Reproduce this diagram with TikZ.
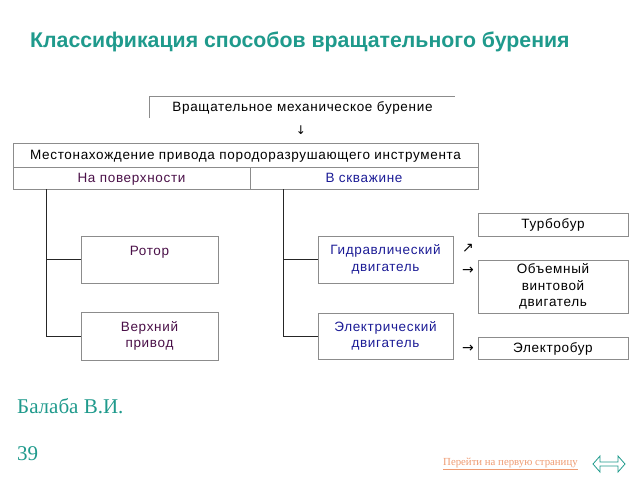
\documentclass[tikz,border=0pt]{standalone}
\usepackage{fontspec}
\setmainfont{Liberation Sans}
\newfontfamily\boxfont[LetterSpace=5]{Liberation Sans}
\newfontfamily\seriffont{Liberation Serif}
\newfontfamily\arrowfont{DejaVu Sans}
\usetikzlibrary{positioning}

\definecolor{titleteal}{HTML}{1F9A8C}
\definecolor{darkpurple}{HTML}{4A1048}
\definecolor{navy}{HTML}{1C1C96}
\definecolor{linkorange}{HTML}{EE9B72}
\definecolor{boxgray}{HTML}{8C8C8C}

\begin{document}
\begin{tikzpicture}[
    x=1pt, y=-1pt,
    box/.style={rectangle, draw=boxgray, line width=0.9pt, inner sep=0pt, align=center, font=\boxfont\fontsize{13.5}{16.5}\selectfont},
    plain/.style={rectangle, inner sep=0pt, align=center, font=\boxfont\fontsize{13.5}{16.5}\selectfont},
    oneline/.style={text height=9.7pt, text depth=1.5pt},
    arrowsign/.style={inner sep=0pt, font=\arrowfont\fontsize{14}{14}\selectfont},
    link/.style={draw=black!85, line width=1pt}
]
\useasboundingbox (0,0) rectangle (640,480);

% Title
\node[anchor=base west, inner sep=0pt, text=titleteal, font=\bfseries\fontsize{21.3}{24}\selectfont] (title) at (30,47) {Классификация способов вращательного бурения};

% Top box (open)
\node[plain, oneline, minimum width=305pt, minimum height=21pt] (top) at (302.5,107.5) {Вращательное механическое бурение};
\draw[boxgray, line width=0.9pt] (top.south west) |- (top.north east);
\node[arrowsign, font=\arrowfont\fontsize{12}{12}\selectfont] (down) at (301,130) {↓};

% Location table
\node[box, oneline, minimum width=465pt, minimum height=24pt] (place) at (245.5,155) {Местонахождение привода породоразрушающего инструмента};
\node[box, oneline, minimum width=237pt, minimum height=22pt, text=darkpurple] (surf) at (131.5,178) {На поверхности};
\node[box, oneline, minimum width=228pt, minimum height=22pt, text=navy] (well) at (364,178) {В скважине};

% Surface drives
\node[box, minimum width=137pt, minimum height=47pt, text=darkpurple] (rotor) at (149.5,259.5) {Ротор\\ \phantom{Р}};
\node[box, minimum width=137pt, minimum height=48pt, text=darkpurple] (topdrive) at (149.5,336) {Верхний\\привод};

% Downhole motors
\node[box, minimum width=135pt, minimum height=47pt, text=navy] (hydro) at (385.5,259.5) {Гидравлический\\двигатель};
\node[box, minimum width=135pt, minimum height=46pt, text=navy] (electro) at (385.5,336) {Электрический\\двигатель};

% Motor types
\node[box, oneline, minimum width=150pt, minimum height=23pt] (turbo) at (553,224.5) {Турбобур};
\node[box, minimum width=150pt, minimum height=53pt] (screw) at (553,286.5) {Объемный\\винтовой\\двигатель};
\node[box, oneline, minimum width=150pt, minimum height=22pt] (edrill) at (553,348) {Электробур};

\node[arrowsign] (a1) at (468,248) {↗};
\node[arrowsign] (a2) at (468,271) {→};
\node[arrowsign] (a3) at (468,349) {→};

% Connections
\draw[link] (surf.south west) ++(34,0) |- (rotor.west);
\draw[link] (surf.south west) ++(34,0) |- (topdrive.west);
\draw[link] (well.south west) ++(34,0) |- (hydro.west);
\draw[link] (well.south west) ++(34,0) |- (electro.west);

% Footer
\node[anchor=base west, inner sep=0pt, text=titleteal, font=\seriffont\fontsize{21}{24}\selectfont] (author) at (17,413) {Балаба В.И.};
\node[anchor=base west, inner sep=0pt, text=titleteal, font=\seriffont\fontsize{21}{24}\selectfont] (page) at (17,460) {39};
\node[anchor=base west, inner sep=0pt, text=linkorange, font=\seriffont\fontsize{10.8}{12}\selectfont] (first) at (443,465) {\underline{Перейти на первую страницу}};

% Navigation sign
\draw[titleteal, line width=0.8pt] (600,456) -- (593,464) -- (600,472) -- (600,466) -- (618,466) -- (618,472) -- (625,464) -- (618,456) -- (618,462) -- (600,462) -- cycle;

\end{tikzpicture}
\end{document}
